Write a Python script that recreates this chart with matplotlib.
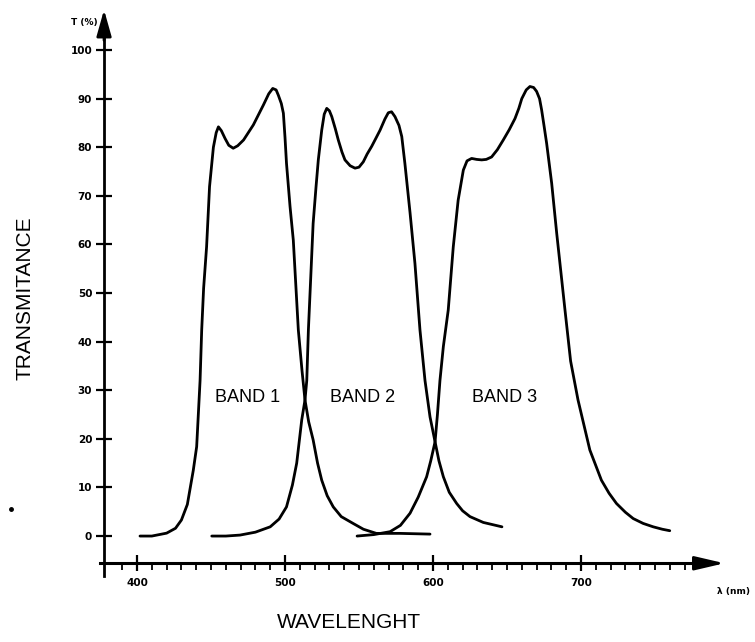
import numpy as np
import matplotlib
matplotlib.use("Agg")
import matplotlib.pyplot as plt

# (wavelength nm, transmittance %)
band1_wl = [402, 410, 420, 426, 430, 434, 436, 438, 440.3, 442.6, 443.7, 445, 447, 449,
            451.6, 453.5, 455, 457, 459.5, 462, 465, 468, 472, 478.6, 485.4, 489,
            491.7, 494, 495.5, 497.5, 498.9, 500, 501, 503.4, 505.6, 509, 511.5,
            513.5, 516, 519, 522, 524.8, 528.5, 532.6, 538, 546, 553, 561.7, 577.7, 598]
band1_t = [0, 0, 0.6, 1.6, 3.3, 6.5, 10, 13.5, 18.4, 32, 42.4, 51, 59.5, 71.9,
           80, 83, 84.2, 83.4, 81.8, 80.4, 79.8, 80.3, 81.5, 84.6, 88.7, 91,
           92.1, 91.8, 90.7, 89, 87, 82, 76.7, 67.8, 60.9, 42.4, 34,
           28, 23.5, 19.8, 15, 11.5, 8.3, 6, 4, 2.6, 1.4, 0.55, 0.55, 0.4]

band2_wl = [450.5, 460, 469.6, 480, 490, 496, 501, 505, 507.9, 511.3, 513.5, 514.7,
            515.8, 517.5, 519, 521, 522.5, 524.8, 526.5, 528.2, 530, 531.6, 534,
            536, 538.5, 540.5, 544, 547.3, 550, 552.9, 555.5, 558.6, 561.5, 564.2,
            567.5, 569.8, 572, 574.3, 577, 578.9, 581, 584.5, 587.8, 591.2, 594.6,
            598, 601.4, 604, 607, 611, 616, 620, 625, 634, 646.6]
band2_t = [0, 0, 0.2, 0.8, 1.9, 3.5, 6, 10.5, 15, 23.9, 28, 32,
           42.4, 54, 64.3, 72, 77.4, 83.5, 86.8, 88, 87.5, 86.3, 83.8,
           81.5, 79, 77.4, 76.2, 75.7, 75.9, 77, 78.6, 80.2, 81.9, 83.5,
           85.8, 87.1, 87.3, 86.3, 84.5, 82.2, 76.7, 66.5, 56.1, 42.4, 32,
           24.5, 19.4, 15.5, 12.2, 9, 6.7, 5.2, 4, 2.8, 1.9]

band3_wl = [548.7, 560, 571, 578, 584.5, 590, 595.7, 598.5, 601.4, 603, 604.7, 607,
            610.3, 613.7, 617, 620.5, 623, 626.1, 629.5, 632.9, 636, 639.6, 643.5,
            647.5, 651.5, 655.4, 658, 660, 663, 665.5, 668, 670, 672, 673.4, 675,
            676.8, 680.2, 683.6, 689.2, 693, 698, 706, 713.8, 719, 724, 730, 735.3,
            742, 748.8, 755, 760]
band3_t = [0, 0.3, 0.9, 2.2, 4.7, 8, 12.2, 15.5, 19.4, 25, 32, 39,
           46.5, 59.5, 69.1, 75.3, 77.2, 77.7, 77.5, 77.4, 77.5, 78, 79.5,
           81.5, 83.6, 85.9, 88, 90, 91.8, 92.5, 92.3, 91.5, 90, 87.7, 84.5,
           80.8, 72.6, 62.3, 46.5, 36, 28, 17.7, 11.5, 8.8, 6.7, 4.9, 3.6,
           2.6, 1.9, 1.4, 1.1]

band_names = ["BAND 1", "BAND 2", "BAND 3"]
band_label_wl = [475, 552.5, 648.5]
band_label_t = [28.6, 28.6, 28.6]

y_ticks = list(range(0, 101, 10))
x_major = [400, 500, 600, 700]
x_minor = list(range(390, 771, 10))

x0_axis = 377.7   # where the T axis crosses
y0_axis = -5.6    # where the wavelength axis crosses

fig = plt.figure(figsize=(7.55, 6.42), dpi=100)
ax = fig.add_axes([0, 0, 1, 1])
ax.set_xlim(307.4, 817.6)
ax.set_ylim(-21.8, 110.3)

for wl, t in [(band1_wl, band1_t), (band2_wl, band2_t), (band3_wl, band3_t)]:
    ax.plot(wl, t, color="black", lw=2.0, solid_capstyle="round", solid_joinstyle="round")

band_font = ["Liberation Sans Narrow", "Liberation Sans", "DejaVu Sans"]
for name, bx, by in zip(band_names, band_label_wl, band_label_t):
    ax.text(bx, by, name, fontsize=13, family=band_font, ha="center", va="center")

# axes drawn like the hand-made figure
for s in ["top", "right"]:
    ax.spines[s].set_visible(False)
ax.spines["left"].set_position(("data", x0_axis))
ax.spines["bottom"].set_position(("data", y0_axis))
ax.spines["left"].set_bounds(-8.2, 104)
ax.spines["bottom"].set_bounds(375, 780)
ax.spines["left"].set_linewidth(2)
ax.spines["bottom"].set_linewidth(2.2)

ax.set_yticks(y_ticks)
ax.set_yticklabels([str(v) for v in y_ticks])
ax.set_xticks(x_major)
ax.set_xticklabels([str(v) for v in x_major])
ax.set_xticks(x_minor, minor=True)
ax.tick_params(axis="y", direction="inout", length=11, width=1.6, pad=3,
               labelsize=7.5)
ax.tick_params(axis="x", which="major", direction="inout", length=11, width=1.6,
               pad=5, labelsize=7.5)
ax.tick_params(axis="x", which="minor", direction="out", length=5, width=1.3)
for lab in ax.get_xticklabels() + ax.get_yticklabels():
    lab.set_fontweight("bold")

# arrow heads
ax.annotate("", xy=(x0_axis, 108.3), xytext=(x0_axis, 102),
            arrowprops=dict(arrowstyle="-|>,head_length=1.6,head_width=0.45",
                            color="black", lw=2, shrinkA=0, shrinkB=0))
ax.annotate("", xy=(797, y0_axis), xytext=(775, y0_axis),
            arrowprops=dict(arrowstyle="-|>,head_length=1.8,head_width=0.42",
                            color="black", lw=2, shrinkA=0, shrinkB=0))

ax.text(x0_axis - 4, 105.6, "T (%)", fontsize=6.5, fontweight="bold",
        ha="right", va="center")
ax.text(803, -11.5, "λ (nm)", fontsize=6.5, fontweight="bold",
        ha="center", va="center")

ax.text(324, 49, "TRANSMITANCE", fontsize=15, family=band_font,
        rotation=90, ha="center", va="center")
ax.text(543, -17.8, "WAVELENGHT", fontsize=15, family=band_font,
        ha="center", va="center")
ax.plot([314.5], [5.5], marker="o", ms=2.5, color="black")

fig.savefig("out.png", dpi=100)
